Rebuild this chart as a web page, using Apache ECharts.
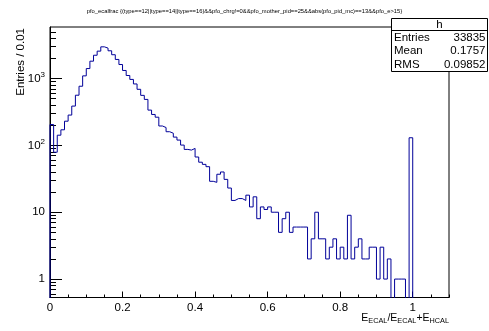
<!DOCTYPE html>
<html>
<head>
<meta charset="utf-8">
<script src="https://cdn.jsdelivr.net/npm/echarts@6/dist/echarts.min.js"></script>
<style>html,body{margin:0;padding:0;background:#fff}#c{width:489px;height:331px}</style>
</head>
<body>
<div id="c"></div>
<script>
// ---- data ----
const xMin = 0, binWidth = 0.01, nBins = 110;
const counts = [
  205, 79, 142, 171, 230, 284, 387, 563, 767, 1096,
  1410, 1818, 2230, 2570, 2980, 2850, 2600, 2270, 1930, 1620,
  1320, 1110, 970, 830, 690, 560, 487, 337, 290, 264,
  195, 185, 160, 152, 133, 120, 101, 87, 85, 90,
  67, 56, 52, 48, 29, 28, 37, 40, 31, 23,
  15, 16, 16, 15, 18, 12, 17, 8, 12, 11,
  12, 10, 10, 5, 8, 10, 5, 6, 6, 6,
  6, 2, 4, 10, 4, 4, 2, 3, 4, 2,
  3, 2, 9, 2, 3, 4, 2, 2, 3, 3,
  1, 3, 1, 2, 0, 1, 1, 1, 0, 130,
  0, 0, 0, 0, 0, 0, 0, 0, 0, 0
];
const xMajorTicks = [0, 0.2, 0.4, 0.6, 0.8, 1];
const xMinorTicks = [0.05,0.1,0.15,0.25,0.3,0.35,0.45,0.5,0.55,0.65,0.7,0.75,0.85,0.9,0.95,1.05,1.1];
const yMajorTicks = [1, 10, 100, 1000];
const yMinorTicks = [0.6,0.7,0.8,0.9,2,3,4,5,6,7,8,9,20,30,40,50,60,70,80,90,200,300,400,500,600,700,800,900,2000,3000,4000,5000];
const yMin = 0.53, yMax = 5900;
const titleText = 'pfo_ecalfrac {(type==12||type==14||type==16)&&pfo_chrg!=0&&pfo_mother_pid==25&&abs(pfo_pid_mc)==13&&pfo_e>15}';
const statName = 'h';
const statLabels = ['Entries', 'Mean', 'RMS'];
const statValues = ['33835', '0.1757', '0.09852'];

// ---- build histogram outline ----
const FLOOR = 1e-3;
const pts = [[xMin, FLOOR]];
for (let i = 0; i < nBins; i++) {
  pts.push([+(xMin + i * binWidth).toFixed(4), counts[i] > 0 ? counts[i] : FLOOR]);
}
const xEnd = +(xMin + nBins * binWidth).toFixed(4);
pts.push([xEnd, counts[nBins - 1] > 0 ? counts[nBins - 1] : FLOOR]);
pts.push([xEnd, FLOOR]);

const FONT = 'Liberation Sans';
const chart = echarts.init(document.getElementById('c'), null, {renderer: 'canvas'});
const GL = 50, GR = 40, GT = 27, GB = 33.5;
chart.setOption({
  animation: false,
  backgroundColor: '#fff',
  title: {
    text: titleText, left: 'center', top: 3,
    textStyle: {fontFamily: FONT, fontSize: 5.8, fontWeight: 'normal', color: '#000'}
  },
  grid: {left: GL, right: GR, top: GT, bottom: GB, show: true, borderColor: '#000', borderWidth: 1, backgroundColor: '#fff', containLabel: false},
  xAxis: [{
    type: 'value', min: 0, max: 1.1, position: 'bottom',
    axisLine: {show: true, onZero: false, lineStyle: {color: '#000', width: 1}},
    axisTick: {show: true, inside: true, length: 6, customValues: xMajorTicks, lineStyle: {color: '#000'}},
    axisLabel: {show: true, customValues: xMajorTicks, fontFamily: FONT, fontSize: 11.5, color: '#000', margin: 4,
      formatter: v => String(v)},
    splitLine: {show: false}
  }, {
    type: 'value', min: 0, max: 1.1, position: 'bottom', offset: 0,
    axisLine: {show: false},
    axisTick: {show: true, inside: true, length: 3, customValues: xMinorTicks, lineStyle: {color: '#000'}},
    axisLabel: {show: false},
    splitLine: {show: false}
  }],
  yAxis: [{
    type: 'log', logBase: 10, min: yMin, max: yMax, position: 'left',
    axisLine: {show: true, onZero: false, lineStyle: {color: '#000', width: 1}},
    axisTick: {show: true, inside: true, length: 12, customValues: yMajorTicks, lineStyle: {color: '#000'}},
    axisLabel: {show: true, customValues: yMajorTicks, fontFamily: FONT, fontSize: 11.5, color: '#000', margin: 5,
      formatter: v => {
        const e = Math.round(Math.log10(v));
        if (e <= 1) return String(Math.round(v));
        return '10{sup|' + e + '}';
      },
      rich: {sup: {fontFamily: FONT, fontSize: 8, color: '#000', padding: [0, 0, 7, 0]}}
    },
    splitLine: {show: false}, minorTick: {show: false}
  }, {
    type: 'log', logBase: 10, min: yMin, max: yMax, position: 'left', offset: 0,
    axisLine: {show: false},
    axisTick: {show: true, inside: true, length: 6, customValues: yMinorTicks, lineStyle: {color: '#000'}},
    axisLabel: {show: false},
    splitLine: {show: false}
  }],
  series: [{
    type: 'line', step: 'end', data: pts, symbol: 'none', clip: true,
    xAxisIndex: 0, yAxisIndex: 0,
    lineStyle: {color: '#000099', width: 1}
  }],
  graphic: [
    {type: 'text', x: 21, y: 28, rotation: Math.PI / 2,
      style: {text: 'Entries / 0.01', fontFamily: FONT, fontSize: 11.5, fill: '#000', align: 'right', verticalAlign: 'middle'}},
    {type: 'text', x: 449, y: 318,
      style: {text: 'E{s|ECAL}/E{s|ECAL}+E{s|HCAL}', fontFamily: FONT, fontSize: 10.5, fill: '#000', align: 'right', verticalAlign: 'middle',
        rich: {s: {fontFamily: FONT, fontSize: 7.3, fill: '#000', padding: [5, 0, 0, 0]}}}},
    {type: 'group', x: 391, y: 18, z: 100, children: [
      {type: 'rect', shape: {x: 0.5, y: 0.5, width: 96, height: 53}, style: {fill: '#fff', stroke: '#000', lineWidth: 1}},
      {type: 'line', shape: {x1: 0.5, y1: 12.5, x2: 96.5, y2: 12.5}, style: {stroke: '#000', lineWidth: 1}},
      {type: 'text', x: 48.5, y: 6.5, style: {text: statName, fontFamily: FONT, fontSize: 11.5, fill: '#000', align: 'center', verticalAlign: 'middle'}},
      {type: 'text', x: 3, y: 19.5, style: {text: statLabels[0], fontFamily: FONT, fontSize: 11.5, fill: '#000', align: 'left', verticalAlign: 'middle'}},
      {type: 'text', x: 94.5, y: 19.5, style: {text: statValues[0], fontFamily: FONT, fontSize: 11.5, fill: '#000', align: 'right', verticalAlign: 'middle'}},
      {type: 'text', x: 3, y: 33, style: {text: statLabels[1], fontFamily: FONT, fontSize: 11.5, fill: '#000', align: 'left', verticalAlign: 'middle'}},
      {type: 'text', x: 94.5, y: 33, style: {text: statValues[1], fontFamily: FONT, fontSize: 11.5, fill: '#000', align: 'right', verticalAlign: 'middle'}},
      {type: 'text', x: 3, y: 46.5, style: {text: statLabels[2], fontFamily: FONT, fontSize: 11.5, fill: '#000', align: 'left', verticalAlign: 'middle'}},
      {type: 'text', x: 94.5, y: 46.5, style: {text: statValues[2], fontFamily: FONT, fontSize: 11.5, fill: '#000', align: 'right', verticalAlign: 'middle'}}
    ]}
  ]
});
</script>
</body>
</html>
